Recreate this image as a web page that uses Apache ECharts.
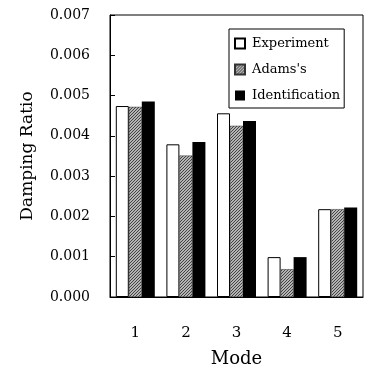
<!DOCTYPE html>
<html>
<head>
<meta charset="utf-8">
<script src="https://cdn.jsdelivr.net/npm/echarts@6/dist/echarts.min.js"></script>
<style>
  html, body { margin: 0; padding: 0; background: #fff; }
  #chart { width: 365px; height: 370px; }
</style>
</head>
<body>
<div id="chart"></div>
<script>
const modes = ['1', '2', '3', '4', '5'];
const experiment = [0.00474, 0.00379, 0.00456, 0.00099, 0.00218];
const adams = [0.00472, 0.00351, 0.00425, 0.00069, 0.00218];
const identification = [0.00485, 0.00385, 0.00437, 0.00099, 0.00222];

const font = 'DejaVu Serif';

// hatched gray fill for the Adams's bars
const hatch = document.createElement('canvas');
hatch.width = 3;
hatch.height = 3;
const hctx = hatch.getContext('2d');
hctx.fillStyle = '#b4b4b4';
hctx.fillRect(0, 0, 3, 3);
hctx.strokeStyle = '#444';
hctx.lineWidth = 1;
hctx.beginPath();
hctx.moveTo(0, 3);
hctx.lineTo(3, 0);
hctx.stroke();

const myChart = echarts.init(document.getElementById('chart'));

const option = {
  backgroundColor: '#ffffff',
  animation: false,
  textStyle: { fontFamily: font, color: '#000' },
  grid: {
    left: 110,
    right: 2,
    top: 15,
    bottom: 73,
    outerBoundsMode: 'none',
    show: true,
    borderColor: '#000',
    borderWidth: 1,
  },
  legend: {
    orient: 'vertical',
    left: 229,
    top: 29,
    padding: [8, 4, 6, 5],
    itemGap: 13,
    itemWidth: 10,
    itemHeight: 10,
    backgroundColor: '#fff',
    borderColor: '#000',
    borderWidth: 1,
    borderRadius: 0,
    textStyle: { fontFamily: font, fontSize: 13, color: '#000', padding: [0, 0, 0, 2] },
    data: [
      { name: 'Experiment', icon: 'rect' },
      { name: "Adams's", icon: 'rect' },
      { name: 'Identification', icon: 'rect' },
    ],
  },
  xAxis: {
    type: 'category',
    data: modes,
    name: 'Mode',
    nameLocation: 'middle',
    nameGap: 53,
    nameTextStyle: { fontFamily: font, fontSize: 18, color: '#000' },
    axisLine: { lineStyle: { color: '#000', width: 1 } },
    axisTick: { show: false },
    axisLabel: { fontFamily: font, fontSize: 15, color: '#000', margin: 29 },
  },
  yAxis: {
    type: 'value',
    min: 0,
    max: 0.007,
    interval: 0.001,
    name: 'Damping Ratio',
    nameLocation: 'middle',
    nameGap: 74,
    nameTextStyle: { fontFamily: font, fontSize: 17, color: '#000' },
    axisLine: { show: true, lineStyle: { color: '#000', width: 1 } },
    axisTick: { show: true, inside: true, length: 5, lineStyle: { color: '#000' } },
    splitLine: { show: false },
    axisLabel: {
      fontFamily: font,
      fontSize: 14,
      color: '#000',
      margin: 20,
      formatter: (v) => v.toFixed(3),
    },
  },
  series: [
    {
      name: 'Experiment',
      type: 'bar',
      barWidth: 13,
      barGap: '0%',
      data: experiment,
      itemStyle: { color: '#fff', borderColor: '#000', borderWidth: 1 },
    },
    {
      name: "Adams's",
      type: 'bar',
      barWidth: 13,
      barGap: '0%',
      data: adams,
      itemStyle: {
        color: { image: hatch, repeat: 'repeat' },
        borderColor: '#333',
        borderWidth: 0.5,
      },
    },
    {
      name: 'Identification',
      type: 'bar',
      barWidth: 13,
      barGap: '0%',
      data: identification,
      itemStyle: { color: '#000' },
    },
  ],
};

myChart.setOption(option);
window.addEventListener('resize', () => myChart.resize());
</script>
</body>
</html>
